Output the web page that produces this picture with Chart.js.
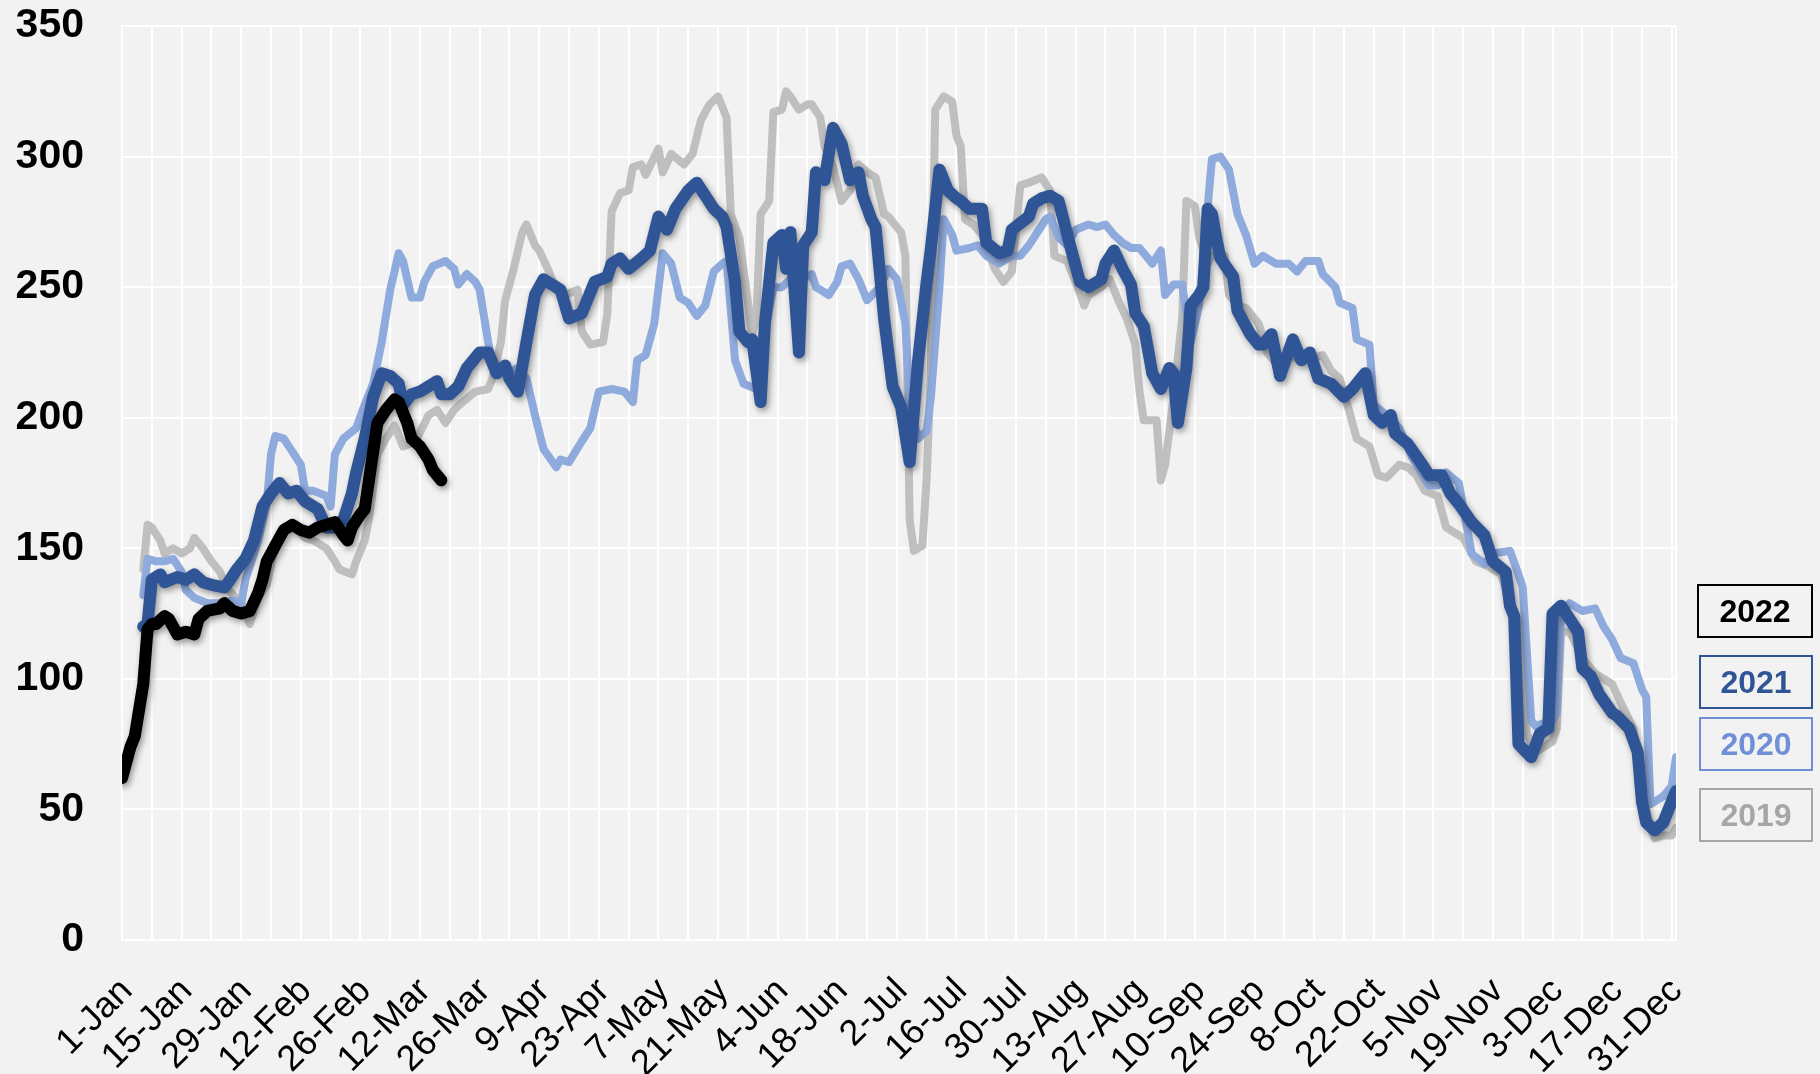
<!DOCTYPE html>
<html>
<head>
<meta charset="utf-8">
<script src="https://cdn.jsdelivr.net/npm/chart.js@4.4.1/dist/chart.umd.min.js"></script>
<style>
  body { margin: 0; background: #f2f2f2; }
  #wrap { position: relative; width: 1820px; height: 1074px; }
  .key { position: absolute; box-sizing: border-box; border: 2px solid; text-align: center;
         font: bold 32px "Liberation Sans", Arial, sans-serif; }
</style>
</head>
<body>
<div id="wrap">
  <canvas id="chart"></canvas>
</div>
<script>
// x axis: day of year (0 = 1-Jan), labels every 14 days
const tickLabels = ['1-Jan', '15-Jan', '29-Jan', '12-Feb', '26-Feb', '12-Mar', '26-Mar', '9-Apr', '23-Apr',
  '7-May', '21-May', '4-Jun', '18-Jun', '2-Jul', '16-Jul', '30-Jul', '13-Aug', '27-Aug', '10-Sep',
  '24-Sep', '8-Oct', '22-Oct', '5-Nov', '19-Nov', '3-Dec', '17-Dec', '31-Dec'];

const years = ['2022', '2021', '2020', '2019'];

// 2022 (to mid March)
const days2022 = [0, 2, 3, 5, 6, 7, 8, 10, 11, 13, 15, 17, 18, 20, 23, 24, 26, 28, 30, 32, 33, 34, 36, 38, 40,
  42, 44, 46, 48, 50, 52, 53, 54, 56, 57, 59, 60, 62, 64, 65, 67, 68, 70, 72, 73, 75];
const vals2022 = [62, 74, 78, 98, 119, 121, 121, 124, 123, 117, 118, 117, 123, 126, 127, 129, 126, 125, 126, 133,
  138, 145, 151, 157, 159, 157, 156, 158, 159, 160, 155, 153, 158, 163, 165, 187, 198, 203, 207, 206, 198, 192,
  189, 184, 180, 176];

// 2021
const days2021 = [5, 6, 7, 9, 10, 13, 15, 17, 19, 21, 24, 25, 27, 29, 31, 33, 35, 37, 39, 41, 43, 46, 48, 50, 52,
  54, 55, 57, 59, 61, 63, 65, 66, 68, 70, 72, 74, 75, 77, 79, 81, 84, 86, 88, 90, 91, 93, 95, 97, 99, 102, 103,
  105, 108, 109, 111, 114, 115, 117, 119, 122, 124, 126, 128, 130, 133, 135, 137, 139, 141, 142, 144, 145, 147,
  148, 150, 151, 153, 155, 156, 157, 159, 160, 162, 163, 165, 167, 169, 171, 173, 174, 176, 177, 179, 181, 183,
  185, 187, 189, 190, 192, 194, 196, 197, 199, 202, 203, 206, 208, 209, 213, 214, 216, 218, 220, 223, 225, 227,
  230, 231, 233, 235, 237, 238, 240, 242, 244, 246, 247, 248, 250, 251, 253, 254, 255, 256, 257, 258, 261, 262,
  265, 267, 268, 270, 272, 275, 277, 279, 281, 284, 287, 289, 292, 294, 296, 298, 299, 302, 305, 307, 310, 312,
  314, 317, 320, 322, 325, 326, 327, 328, 331, 333, 335, 336, 338, 340, 342, 343, 345, 347, 350, 351, 354, 356,
  357, 358, 360, 362, 364, 365];
const vals2021 = [120, 121, 138, 140, 137, 139, 138, 140, 137, 136, 135, 137, 142, 146, 153, 166, 171, 175, 171,
  172, 168, 165, 158, 158, 161, 171, 179, 192, 208, 217, 216, 213, 205, 209, 210, 212, 214, 209, 209, 212, 219,
  225, 225, 217, 220, 215, 210, 229, 247, 253, 250, 249, 238, 240, 244, 252, 254, 259, 261, 257, 261, 264, 277,
  272, 280, 287, 290, 285, 280, 277, 273, 252, 233, 229, 230, 206, 236, 267, 270, 257, 271, 225, 266, 271, 294,
  291, 311, 305, 291, 294, 285, 276, 273, 238, 212, 204, 183, 222, 252, 265, 295, 287, 284, 283, 280, 280, 267,
  263, 264, 272, 277, 282, 284, 285, 283, 264, 252, 250, 253, 259, 264, 257, 251, 240, 235, 217, 211, 219, 217,
  198, 219, 243, 247, 250, 280, 278, 269, 261, 254, 241, 232, 228, 228, 232, 216, 230, 222, 225, 215, 213, 208,
  211, 217, 201, 198, 201, 194, 190, 183, 178, 178, 171, 167, 160, 155, 145, 141, 128, 124, 75, 70, 79, 81, 125,
  128, 123, 118, 104, 101, 94, 87, 86, 81, 72, 53, 45, 42, 45, 53, 57];

// 2020
const days2020 = [5, 6, 8, 10, 12, 14, 15, 17, 20, 23, 26, 28, 29, 32, 34, 35, 36, 38, 40, 42, 43, 45, 48, 49, 50,
  52, 55, 57, 59, 61, 63, 65, 66, 68, 70, 71, 73, 76, 78, 79, 81, 83, 84, 86, 87, 90, 93, 95, 97, 99, 102, 103,
  105, 108, 110, 112, 115, 118, 120, 121, 123, 125, 127, 129, 131, 133, 135, 137, 139, 141, 142, 144, 146, 149,
  151, 153, 155, 157, 159, 162, 163, 166, 168, 169, 171, 173, 175, 178, 180, 182, 184, 185, 187, 189, 190, 192,
  193, 195, 196, 199, 201, 203, 206, 209, 211, 213, 215, 217, 218, 220, 222, 224, 227, 229, 231, 233, 235, 237,
  239, 242, 244, 245, 247, 249, 251, 253, 254, 256, 258, 260, 262, 264, 266, 268, 271, 274, 276, 278, 281, 282,
  285, 286, 289, 290, 293, 294, 297, 300, 303, 307, 309, 311, 314, 317, 320, 322, 326, 328, 329, 331, 332, 336,
  337, 338, 340, 343, 346, 348, 350, 352, 355, 357, 358, 359, 362, 364, 365];
const vals2020 = [132, 146, 145, 145, 146, 141, 134, 131, 129, 129, 130, 129, 138, 153, 167, 186, 193, 192, 187,
  182, 172, 172, 170, 166, 186, 192, 196, 205, 213, 229, 249, 263, 260, 246, 246, 252, 258, 260, 257, 251, 255,
  252, 249, 229, 221, 217, 219, 215, 201, 188, 181, 184, 183, 191, 196, 210, 211, 210, 206, 222, 224, 236, 263,
  259, 246, 244, 239, 243, 256, 259, 260, 222, 213, 211, 233, 250, 250, 253, 252, 255, 250, 247, 252, 258, 259,
  253, 245, 250, 257, 253, 236, 205, 192, 195, 208, 250, 276, 270, 264, 265, 266, 262, 259, 262, 262, 266, 271,
  276, 277, 269, 266, 272, 274, 273, 274, 270, 267, 265, 265, 259, 264, 247, 251, 251, 229, 243, 262, 299, 300,
  295, 278, 270, 259, 262, 259, 259, 256, 260, 260, 255, 250, 244, 242, 230, 228, 205, 201, 196, 185, 174, 174,
  179, 175, 148, 144, 148, 149, 140, 135, 84, 82, 84, 87, 125, 129, 126, 127, 120, 115, 108, 106, 96, 93, 52, 55,
  59, 70];

// 2019
const days2019 = [5, 6, 7, 9, 10, 12, 14, 16, 17, 19, 21, 23, 25, 28, 30, 32, 34, 36, 38, 40, 43, 45, 48, 50, 51,
  54, 55, 57, 58, 60, 62, 64, 66, 69, 72, 74, 76, 78, 80, 83, 86, 87, 89, 90, 92, 94, 95, 97, 98, 100, 102, 104,
  107, 108, 110, 113, 114, 115, 117, 119, 120, 122, 123, 126, 127, 129, 132, 134, 136, 138, 140, 142, 143, 145,
  148, 149, 150, 152, 153, 155, 156, 157, 159, 161, 162, 164, 165, 167, 169, 171, 173, 175, 177, 179, 180, 183,
  184, 185, 186, 188, 189, 190, 191, 193, 195, 196, 197, 198, 200, 202, 205, 207, 209, 211, 213, 216, 218, 219,
  222, 224, 226, 227, 230, 232, 234, 236, 238, 239, 240, 243, 244, 245, 247, 249, 250, 252, 253, 255, 256, 259,
  260, 262, 264, 267, 269, 271, 274, 277, 280, 282, 284, 286, 288, 290, 293, 295, 297, 300, 302, 304, 306, 309,
  311, 313, 315, 318, 321, 324, 326, 328, 330, 332, 334, 336, 337, 338, 340, 341, 343, 346, 349, 350, 352, 355,
  357, 359, 360, 362, 364, 365];
const vals2019 = [142, 159, 158, 153, 148, 150, 148, 150, 154, 150, 145, 141, 134, 129, 121, 131, 136, 151, 158,
  159, 154, 153, 150, 145, 142, 140, 145, 153, 161, 186, 192, 197, 189, 191, 201, 203, 198, 203, 206, 210, 211,
  215, 229, 245, 257, 271, 274, 266, 264, 257, 249, 247, 249, 233, 228, 229, 240, 279, 286, 287, 296, 297, 293,
  303, 294, 301, 297, 301, 314, 320, 323, 315, 278, 269, 232, 238, 278, 283, 317, 318, 325, 323, 318, 320, 320,
  315, 304, 296, 283, 287, 297, 294, 292, 278, 277, 271, 262, 161, 149, 151, 177, 219, 318, 323, 321, 308, 304,
  276, 274, 270, 257, 252, 256, 289, 290, 292, 287, 262, 260, 252, 243, 247, 250, 253, 245, 238, 228, 210, 199,
  199, 176, 182, 208, 238, 283, 281, 269, 259, 262, 262, 247, 243, 242, 236, 225, 221, 224, 222, 223, 224, 218,
  215, 204, 192, 189, 178, 177, 182, 181, 178, 172, 170, 158, 156, 154, 145, 143, 140, 128, 122, 79, 72, 74, 76,
  81, 118, 118, 115, 108, 102, 99, 98, 91, 81, 57, 43, 39, 40, 40, 43];

const lineColors = ['#000000', '#2F5597', '#8FAADC', '#BFBFBF'];
const textColors = ['#000000', '#2F5597', '#6F8FD6', '#A6A6A6'];

function pts(days, vals) {
    return days.map((d, i) => ({ x: d, y: vals[i] }));
}

// Excel-style drop shadow on the two thick lines
const shadowPlugin = {
    id: 'lineShadow',
    beforeDatasetDraw(chart, args) {
        if (!chart.data.datasets[args.index].shadow) return;
        const ctx = chart.ctx;
        ctx.save();
        ctx.shadowColor = 'rgba(0,0,0,0.4)';
        ctx.shadowBlur = 6;
        ctx.shadowOffsetX = 2;
        ctx.shadowOffsetY = 3;
    },
    afterDatasetDraw(chart, args) {
        if (chart.data.datasets[args.index].shadow) chart.ctx.restore();
    }
};

const series = [
    { data: pts(days2022, vals2022), width: 12, shadow: true },
    { data: pts(days2021, vals2021), width: 12, shadow: true },
    { data: pts(days2020, vals2020), width: 8, shadow: false },
    { data: pts(days2019, vals2019), width: 8, shadow: false }
];

const ctx = document.getElementById('chart').getContext('2d');
new Chart(ctx, {
    type: 'line',
    data: {
        datasets: series.map((s, i) => ({
            label: years[i],
            data: s.data,
            borderColor: lineColors[i],
            borderWidth: s.width,
            shadow: s.shadow,
            pointRadius: 0,
            tension: 0,
            fill: false,
            borderJoinStyle: 'round',
            borderCapStyle: 'round'
        }))
    },
    options: {
        responsive: true,
        maintainAspectRatio: false,
        animation: false,
        layout: { padding: { left: 0, right: 144, top: 26, bottom: 0 } },
        plugins: { legend: { display: false }, tooltip: { enabled: false } },
        scales: {
            x: {
                type: 'linear',
                min: 0,
                max: 365,
                // weekly gridlines, plus the right edge of the plot
                afterBuildTicks: scale => {
                    const t = [];
                    for (let d = 0; d <= 364; d += 7) t.push({ value: d });
                    t.push({ value: 365 });
                    scale.ticks = t;
                },
                afterFit: scale => {
                    scale.height = 134;
                    scale.paddingLeft = 0;
                    scale.paddingRight = 0;
                },
                grid: { color: '#ffffff', lineWidth: 2, drawTicks: false },
                border: { display: false },
                ticks: {
                    autoSkip: false,
                    maxRotation: 45,
                    minRotation: 45,
                    padding: 30,
                    labelOffset: 5,
                    color: '#000',
                    font: { family: '"Liberation Sans", Arial, sans-serif', size: 36 },
                    callback: v => (v % 14 === 0 ? tickLabels[v / 14] : '')
                }
            },
            y: {
                min: 0,
                max: 350,
                afterFit: scale => {
                    scale.width = 122;
                    scale.paddingTop = 0;
                    scale.paddingBottom = 0;
                },
                grid: { color: '#ffffff', lineWidth: 2, drawTicks: false },
                border: { color: '#ffffff', width: 2 },
                ticks: {
                    stepSize: 50,
                    padding: 38,
                    color: '#000',
                    font: { family: '"Liberation Sans", Arial, sans-serif', size: 41, weight: 'bold' }
                }
            }
        }
    },
    plugins: [shadowPlugin]
});

// year boxes on the right
const boxTops = [584, 655, 717, 788];
const wrap = document.getElementById('wrap');
years.forEach((y, i) => {
    const div = document.createElement('div');
    div.className = 'key';
    div.textContent = y;
    div.style.left = (i === 0 ? 1697 : 1699) + 'px';
    div.style.top = boxTops[i] + 'px';
    div.style.width = (i === 0 ? 116 : 114) + 'px';
    div.style.height = '54px';
    div.style.lineHeight = '50px';
    div.style.color = textColors[i];
    div.style.borderColor = i === 0 ? '#000' : textColors[i];
    wrap.appendChild(div);
});
</script>
</body>
</html>
